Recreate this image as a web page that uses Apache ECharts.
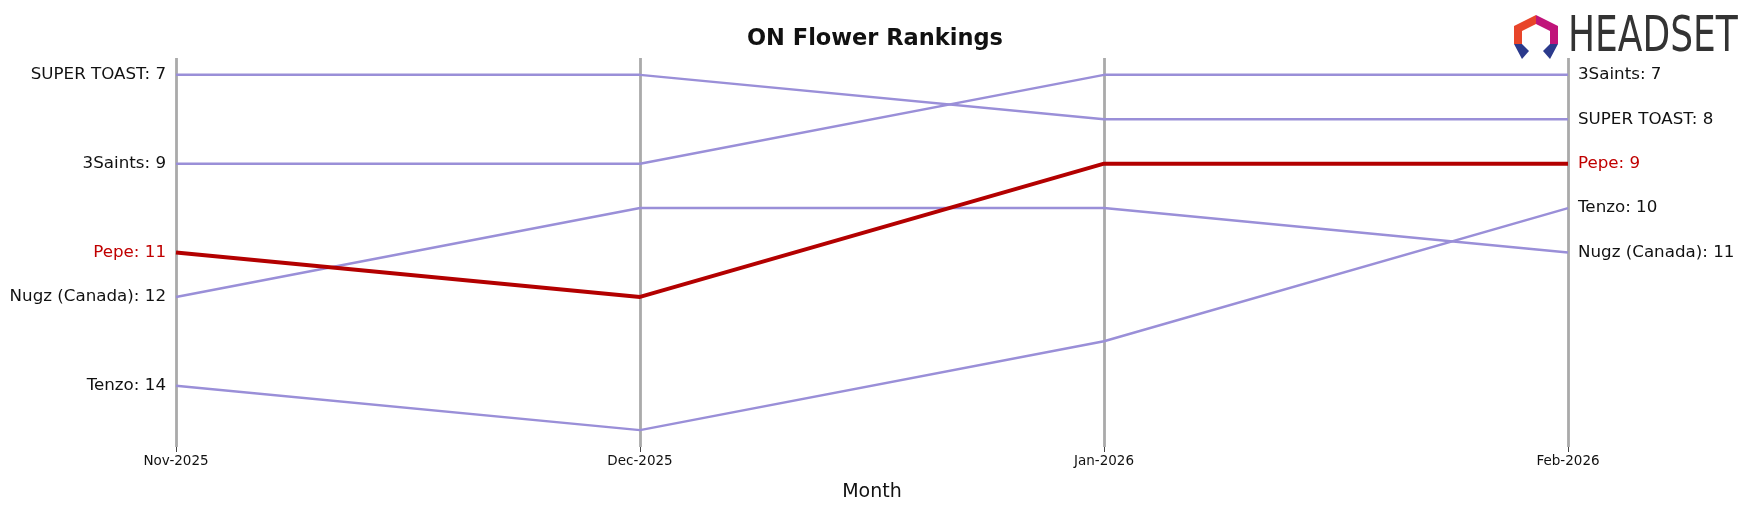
<!DOCTYPE html>
<html><head><meta charset="utf-8">
<script src="https://cdn.jsdelivr.net/npm/echarts@6/dist/echarts.min.js"></script>
<style>html,body{margin:0;padding:0;background:#fff}#c{width:1750px;height:507px}</style>
</head><body><div id="c"></div>
<script>
const months = ['Nov-2025','Dec-2025','Jan-2026','Feb-2026'];
const brands = ['SUPER TOAST','3Saints','Pepe','Nugz (Canada)','Tenzo'];
const superToast = [7,7,8,8];
const saints = [9,9,7,7];
const pepe = [11,12,9,9];
const nugz = [12,10,10,11];
const tenzo = [14,15,13,10];
const values = [superToast, saints, pepe, nugz, tenzo];
const highlight = 'Pepe';

const chart = echarts.init(document.getElementById('c'));
const series = brands.map((b,i)=>{
  const hl = b===highlight;
  const col = hl ? '#b30000' : '#9a8fd8';
  const tcol = hl ? '#c00000' : '#111';
  const n = values[i].length;
  const data = values[i].map((v,j)=>{
    const d = {value:v};
    if (j===0) d.label = {show:true, position:'left', distance:10, formatter:b+': '+v, color:tcol, fontSize:16.7};
    else if (j===n-1) d.label = {show:true, position:'right', distance:10, formatter:b+': '+v, color:tcol, fontSize:16.7};
    else d.label = {show:false};
    return d;
  });
  return {type:'line', name:b, data, symbol:'circle', symbolSize:0.01, showSymbol:true, z: hl?5:2,
    lineStyle:{color:col, width: hl?4:2.5}, itemStyle:{color:col},
    emphasis:{disabled:true}};
});
chart.setOption({
  animation:false,
  title:{text:'ON Flower Rankings', left:'center', top:23, textStyle:{fontSize:22.5, fontWeight:'bold', color:'#111', fontFamily:'DejaVu Sans'}},
  grid:{left:176, right:182, top:58, bottom:55, containLabel:false},
  xAxis:{type:'category', data:months, boundaryGap:false,
    name:'Month', nameLocation:'middle', nameGap:36, nameTextStyle:{fontSize:19, color:'#111', fontFamily:'DejaVu Sans'},
    axisLine:{show:false}, axisTick:{show:true, length:5, lineStyle:{color:'#444'}},
    axisLabel:{fontSize:13.5, color:'#111', margin:7, fontFamily:'DejaVu Sans'},
    splitLine:{show:true, lineStyle:{color:'#aaaaaa', width:2.8}}},
  yAxis:{type:'value', inverse:true, min:6.62, max:15.38, show:false, splitLine:{show:false}},
  textStyle:{fontFamily:'DejaVu Sans'},
  series,
  graphic:[
    {type:'text', left:1568, top:13, style:{text:'HEADSET', font:'50px "DejaVu Sans Condensed", "Liberation Sans Narrow", sans-serif', fill:'#333'}, scaleX:0.8},
    {type:'polygon', shape:{points:[[1536,15],[1558,26],[1558,44],[1550,44],[1550,31],[1536,24]]}, style:{fill:'#c0147a'}},
    {type:'polygon', shape:{points:[[1536,15],[1514,26],[1514,44],[1522,44],[1522,31],[1536,24]]}, style:{fill:'#e8452a'}},
    {type:'polygon', shape:{points:[[1514,44],[1522,44],[1529,51],[1522,59]]}, style:{fill:'#2b3a8c'}},
    {type:'polygon', shape:{points:[[1558,44],[1550,44],[1543,51],[1550,59]]}, style:{fill:'#2b3a8c'}}
  ]
});
</script></body></html>
